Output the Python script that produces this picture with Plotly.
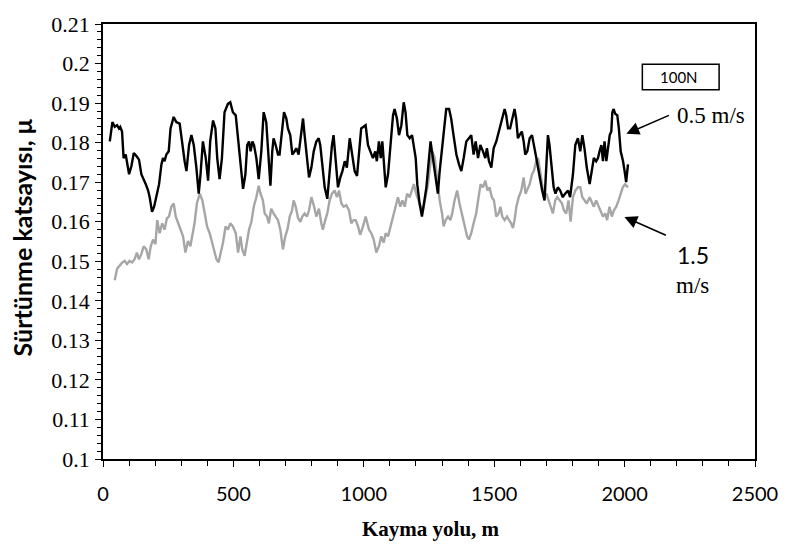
import plotly.graph_objects as go

# 0.5 m/s series (black)
x_05 = [26, 36, 45, 54, 61, 66, 73, 79, 87, 92, 100, 109, 118, 128, 138, 147, 156, 164, 173, 179,
        188, 196, 204, 215, 224, 230, 236, 243, 252, 259, 271, 281, 294, 304, 313, 320, 330, 339, 348, 358,
        367, 374, 383, 394, 403, 411, 422, 431, 438, 447, 456, 466, 479, 488, 498,
        509, 518, 527, 537, 546, 553, 560, 566, 573, 579, 588, 597, 607, 616, 626, 633, 642, 649, 654, 662,
        671, 677, 686, 694, 703, 709, 718, 726, 735, 741, 750, 758, 767, 773, 782, 790, 799, 808, 818, 827,
        833, 841, 850, 860, 869, 878, 884, 892, 901, 910, 918, 927, 935, 946, 955, 965, 974, 981, 990,
        1007, 1016, 1025, 1035, 1044, 1050, 1058, 1065, 1071, 1077, 1084, 1093, 1102, 1112, 1118, 1127, 1135,
        1144, 1153, 1160, 1167, 1176, 1185, 1191, 1199, 1205, 1214, 1223, 1231, 1240, 1249, 1256, 1265, 1275,
        1284, 1291, 1300, 1307, 1316, 1327, 1335, 1344, 1355, 1365, 1374, 1383, 1393, 1403, 1412, 1421, 1429,
        1438, 1447, 1457, 1466, 1472, 1480, 1489, 1498, 1508,
        1514, 1523, 1531, 1540, 1546, 1553, 1561, 1569, 1578, 1584, 1591, 1597, 1606, 1613, 1619, 1627, 1636,
        1645, 1651, 1659, 1668, 1676, 1684, 1693, 1699, 1706, 1712, 1720, 1728, 1735, 1744, 1753, 1763, 1772,
        1783, 1791, 1802, 1811, 1821, 1830, 1838, 1846, 1855, 1866, 1875, 1882, 1891,
        1898, 1904, 1911, 1917, 1923, 1930, 1936, 1943, 1949, 1953, 1958, 1964, 1972, 1978, 1985, 1994, 2000,
        2006, 2013]
y_05 = [0.1803, 0.1852, 0.1840, 0.1844, 0.1836, 0.1840, 0.1828, 0.1761, 0.1770, 0.1753, 0.1720, 0.1741,
        0.1774, 0.1766, 0.1757, 0.1720, 0.1708, 0.1695, 0.1679, 0.1662, 0.1625, 0.1638, 0.1662, 0.1695, 0.1745,
        0.1761, 0.1753, 0.1770, 0.1778, 0.1836, 0.1865, 0.1852, 0.1848, 0.1794, 0.1753, 0.1728, 0.1794, 0.1819,
        0.1794, 0.1737, 0.1671, 0.1720, 0.1803, 0.1761, 0.1704, 0.1803, 0.1856, 0.1836, 0.1761, 0.1708, 0.1761,
        0.1877, 0.1898, 0.1902, 0.1877,
        0.1869, 0.1811, 0.1745, 0.1683, 0.1720, 0.1794, 0.1803, 0.1778, 0.1803, 0.1794, 0.1761, 0.1708, 0.1778,
        0.1877, 0.1852, 0.1778, 0.1691, 0.1778, 0.1811, 0.1794, 0.1770, 0.1770, 0.1836, 0.1877, 0.1861, 0.1836,
        0.1819, 0.1770, 0.1778, 0.1786, 0.1770, 0.1819, 0.1861, 0.1819, 0.1761, 0.1712, 0.1737, 0.1778, 0.1803,
        0.1811, 0.1794, 0.1737, 0.1687, 0.1658, 0.1728, 0.1794, 0.1819, 0.1761, 0.1687, 0.1712, 0.1728, 0.1753,
        0.1737, 0.1811, 0.1770, 0.1728, 0.1716, 0.1778, 0.1836,
        0.1844, 0.1794, 0.1778, 0.1761, 0.1778, 0.1753, 0.1803, 0.1761, 0.1803, 0.1745, 0.1687, 0.1720, 0.1794,
        0.1869, 0.1885, 0.1861, 0.1819, 0.1844, 0.1902, 0.1877, 0.1819, 0.1811, 0.1819, 0.1794, 0.1761, 0.1695,
        0.1646, 0.1613, 0.1646, 0.1687, 0.1753, 0.1803, 0.1761, 0.1712, 0.1671, 0.1728, 0.1786, 0.1836, 0.1885,
        0.1885, 0.1861, 0.1819, 0.1770, 0.1745, 0.1728, 0.1761, 0.1803, 0.1811, 0.1819, 0.1770, 0.1803, 0.1761,
        0.1794, 0.1778, 0.1761, 0.1786, 0.1753, 0.1737, 0.1786, 0.1803,
        0.1819, 0.1844, 0.1861, 0.1885, 0.1869, 0.1836, 0.1836, 0.1861, 0.1885, 0.1861, 0.1811, 0.1819, 0.1828,
        0.1803, 0.1770, 0.1778, 0.1811, 0.1819, 0.1794, 0.1770, 0.1737, 0.1704, 0.1679, 0.1654, 0.1745, 0.1819,
        0.1794, 0.1737, 0.1687, 0.1671, 0.1687, 0.1679, 0.1662, 0.1671, 0.1679, 0.1662, 0.1720, 0.1794, 0.1811,
        0.1778, 0.1819, 0.1786, 0.1737, 0.1695, 0.1737, 0.1761, 0.1753,
        0.1761, 0.1778, 0.1794, 0.1753, 0.1803, 0.1753, 0.1778, 0.1819, 0.1828, 0.1877, 0.1885, 0.1873, 0.1869,
        0.1836, 0.1778, 0.1753, 0.1728, 0.1700, 0.1745]

# 1.5 m/s series (grey)
x_15 = [45, 54, 64, 74, 83, 92, 102, 112, 121, 130, 138, 147, 156, 166, 175, 183, 192, 201, 208, 217,
        227, 236, 245, 253, 262, 271, 279, 288, 296, 307, 316, 326, 335, 343, 351, 360, 371, 381, 390, 399,
        409, 418, 426, 435, 443, 451, 460, 470, 479, 488, 498,
        509, 518, 527, 534, 543, 552, 560, 569, 578, 588, 597, 604, 613, 620, 629, 636, 645, 654, 662, 671,
        680, 690, 699, 707, 716, 725, 731, 739, 748, 757, 764, 773, 782, 790, 799, 808, 818, 828, 837, 843,
        852, 860, 869, 878, 888, 897, 905, 914, 923, 933, 943, 952, 961, 969, 978, 986, 997, 1007,
        1020, 1029, 1038, 1048, 1058, 1067, 1076, 1084, 1093, 1102, 1112, 1121, 1131, 1140, 1148, 1157, 1166,
        1176, 1185, 1192, 1201, 1210, 1218, 1227, 1237, 1246, 1255, 1263, 1272, 1281, 1291, 1300, 1306, 1314,
        1323, 1332, 1339, 1348, 1358, 1367, 1376, 1387, 1396, 1403, 1412, 1421, 1431, 1440, 1448, 1457, 1466,
        1474, 1482, 1491, 1499,
        1508, 1517, 1524, 1531, 1540, 1549, 1557, 1565, 1572, 1578, 1585, 1594, 1604, 1613, 1620, 1629, 1636,
        1645, 1652, 1661, 1668, 1674, 1683, 1691, 1700, 1708, 1716, 1725, 1734, 1742, 1751, 1760, 1767, 1776,
        1785, 1793, 1802, 1811, 1821, 1830, 1838, 1846, 1855, 1866, 1875, 1882, 1891, 1900, 1908, 1917, 1926,
        1933, 1942, 1951, 1959, 1968, 1977, 1985, 1993, 2002, 2013]
y_15 = [0.1452, 0.1481, 0.1489, 0.1497, 0.1501, 0.1493, 0.1501, 0.1497, 0.1505, 0.1522, 0.1505, 0.1518,
        0.1538, 0.1530, 0.1505, 0.1538, 0.1555, 0.1543, 0.1604, 0.1571, 0.1596, 0.1580, 0.1609, 0.1613, 0.1638,
        0.1646, 0.1613, 0.1596, 0.1580, 0.1563, 0.1522, 0.1551, 0.1538, 0.1563, 0.1596, 0.1646, 0.1671, 0.1654,
        0.1621, 0.1588, 0.1571, 0.1547, 0.1522, 0.1505, 0.1497, 0.1518, 0.1547, 0.1588, 0.1580, 0.1596, 0.1588,
        0.1571, 0.1522, 0.1563, 0.1530, 0.1514, 0.1547, 0.1580, 0.1600, 0.1638, 0.1662, 0.1691, 0.1671, 0.1654,
        0.1621, 0.1613, 0.1596, 0.1633, 0.1621, 0.1613, 0.1604, 0.1580, 0.1530, 0.1563, 0.1580, 0.1613, 0.1629,
        0.1654, 0.1638, 0.1609, 0.1600, 0.1613, 0.1621, 0.1613, 0.1629, 0.1662, 0.1642, 0.1613, 0.1633, 0.1596,
        0.1580, 0.1604, 0.1621, 0.1654, 0.1671, 0.1679, 0.1662, 0.1679, 0.1646, 0.1638, 0.1642, 0.1629, 0.1596,
        0.1604, 0.1604, 0.1588, 0.1567, 0.1588, 0.1613,
        0.1580, 0.1571, 0.1555, 0.1522, 0.1538, 0.1563, 0.1547, 0.1571, 0.1563, 0.1588, 0.1613, 0.1638, 0.1662,
        0.1638, 0.1654, 0.1638, 0.1671, 0.1662, 0.1679, 0.1695, 0.1671, 0.1654, 0.1638, 0.1629, 0.1662, 0.1695,
        0.1745, 0.1778, 0.1761, 0.1704, 0.1654, 0.1621, 0.1588, 0.1604, 0.1613, 0.1604, 0.1621, 0.1654, 0.1679,
        0.1646, 0.1621, 0.1596, 0.1563, 0.1555, 0.1571, 0.1596, 0.1621, 0.1662, 0.1695, 0.1687, 0.1704, 0.1679,
        0.1687, 0.1662, 0.1654,
        0.1613, 0.1621, 0.1638, 0.1613, 0.1604, 0.1613, 0.1604, 0.1596, 0.1584, 0.1604, 0.1638, 0.1662, 0.1679,
        0.1712, 0.1671, 0.1687, 0.1695, 0.1720, 0.1728, 0.1753, 0.1761, 0.1737, 0.1695, 0.1662, 0.1671, 0.1654,
        0.1638, 0.1621, 0.1654, 0.1662, 0.1654, 0.1646, 0.1629, 0.1621, 0.1654, 0.1600, 0.1662, 0.1679, 0.1687,
        0.1687, 0.1662, 0.1654, 0.1646, 0.1662, 0.1646, 0.1638, 0.1654, 0.1638, 0.1629, 0.1613, 0.1621, 0.1604,
        0.1638, 0.1613, 0.1629, 0.1638, 0.1654, 0.1671, 0.1687, 0.1695, 0.1687]

y_ticks = [0.10, 0.11, 0.12, 0.13, 0.14, 0.15, 0.16, 0.17, 0.18, 0.19, 0.20, 0.21]
y_labels = ["0.1", "0.11", "0.12", "0.13", "0.14", "0.15", "0.16", "0.17", "0.18", "0.19", "0.2", "0.21"]
x_ticks = [0, 500, 1000, 1500, 2000, 2500]
x_labels = ["0", "500", "1000", "1500", "2000", "2500"]

fig = go.Figure()
fig.add_trace(go.Scatter(x=x_15, y=y_15, mode="lines", name="1.5 m/s",
                         line=dict(color="#a6a6a6", width=2.4)))
fig.add_trace(go.Scatter(x=x_05, y=y_05, mode="lines", name="0.5 m/s",
                         line=dict(color="#000000", width=2.4)))

fig.update_layout(
    width=790, height=549,
    margin=dict(l=103, r=33, t=15, b=90),
    paper_bgcolor="white", plot_bgcolor="white",
    showlegend=False,
    xaxis=dict(range=[0, 2500], tickvals=x_ticks, ticktext=x_labels,
               showgrid=False, zeroline=False, showline=True, linecolor="black", linewidth=1.5,
               mirror=True, ticks="outside", ticklen=6, tickwidth=1.3, tickcolor="black",
               minor=dict(dtick=100, ticks="outside", ticklen=5, tickwidth=1.3, tickcolor="black", showgrid=False),
               tickfont=dict(family="Lato", size=20, color="black"), ticklabelstandoff=10),
    yaxis=dict(range=[0.1, 0.21], tickvals=y_ticks, ticktext=y_labels,
               showgrid=False, zeroline=False, showline=True, linecolor="black", linewidth=1.5,
               mirror=True, ticks="outside", ticklen=6, tickwidth=1.3, tickcolor="black",
               minor=dict(dtick=0.002, tick0=0.1, ticks="outside", ticklen=4, tickwidth=1.3, tickcolor="black", showgrid=False),
               tickfont=dict(family="Liberation Serif", size=22, color="black"), ticklabelstandoff=1),
)

annotations = [
    dict(text="<b>Sürtünme katsayısı, μ</b>", xref="paper", yref="paper", x=(22 - 103) / 654, y=0.51,
         textangle=-90, showarrow=False, xanchor="center", yanchor="middle",
         font=dict(family="Lato", size=25, color="black")),
    dict(text="<b>Kayma yolu, m</b>", xref="paper", yref="paper", x=0.503, y=-0.16,
         showarrow=False, xanchor="center", yanchor="middle",
         font=dict(family="Liberation Serif", size=21, color="black")),
    dict(text="0.5 m/s", xref="paper", yref="paper", x=(677 - 103) / 654, y=(459 - 108) / 444,
         showarrow=False, xanchor="left", yanchor="middle",
         font=dict(family="Liberation Serif", size=23, color="black")),
    dict(text="1.5", xref="paper", yref="paper", x=(677 - 103) / 654, y=(459 - 251) / 444,
         showarrow=False, xanchor="left", yanchor="middle",
         font=dict(family="Lato", size=23, color="black")),
    dict(text="m/s", xref="paper", yref="paper", x=(676 - 103) / 654, y=(459 - 282) / 444,
         showarrow=False, xanchor="left", yanchor="middle",
         font=dict(family="Liberation Serif", size=23, color="black")),
    dict(text="", xref="paper", yref="paper", x=(628 - 103) / 654, y=(459 - 127) / 444,
         ax=44, ay=-19, showarrow=True, arrowhead=2, arrowsize=1.6, arrowwidth=1.6, arrowcolor="black"),
    dict(text="", xref="paper", yref="paper", x=(626 - 103) / 654, y=(459 - 212) / 444,
         ax=43, ay=19, showarrow=True, arrowhead=2, arrowsize=1.6, arrowwidth=1.6, arrowcolor="black"),
    dict(text="100N", xref="paper", yref="paper", x=(681 - 103) / 654, y=(459 - 69) / 444,
         showarrow=False, xanchor="center", yanchor="middle",
         font=dict(family="Lato", size=15, color="black")),
]
fig.update_layout(annotations=annotations)
fig.add_shape(type="rect", xref="paper", yref="paper",
              x0=(644 - 103) / 654, x1=(721 - 103) / 654,
              y0=(459 - 82) / 444, y1=(459 - 56) / 444,
              line=dict(color="black", width=1.5), fillcolor="rgba(0,0,0,0)")

fig.write_html("out.html")
